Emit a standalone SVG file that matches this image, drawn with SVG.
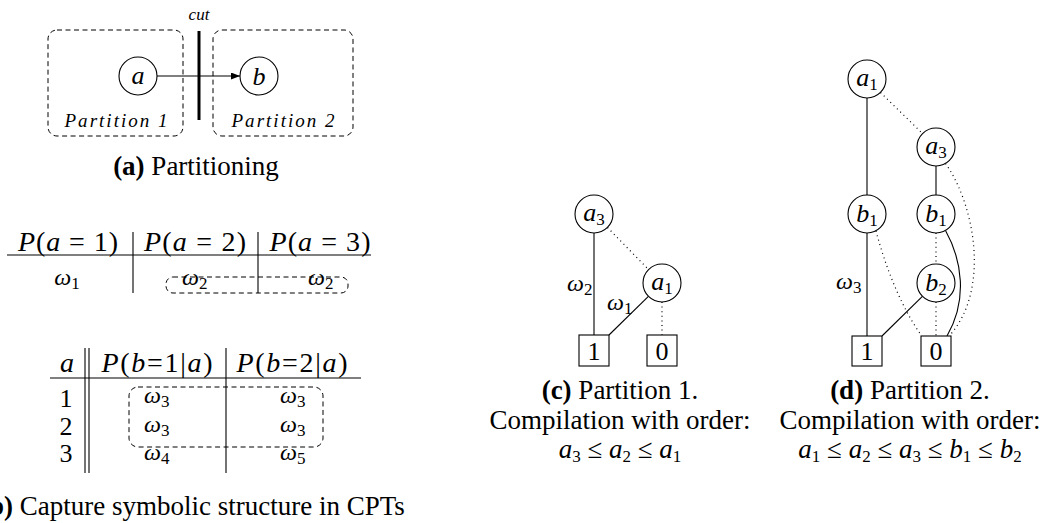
<svg xmlns="http://www.w3.org/2000/svg" width="1042" height="523" viewBox="0 0 1042 523">
<defs>
<style>
text{font-family:"Liberation Serif","Times New Roman",serif;fill:#000}
.m{font-style:italic}
.node{fill:#fff;stroke:#000;stroke-width:1.1}
.box{fill:#fff;stroke:#000;stroke-width:1.1}
.solid{stroke:#000;stroke-width:1.1;fill:none}
.dot{stroke:#000;stroke-width:1.2;fill:none;stroke-dasharray:1 3.6}
.dash{stroke:#000;stroke-width:1;fill:none;stroke-dasharray:5 3.5}
.rule{stroke:#000;stroke-width:1.2}
.nl{font-size:26px;font-style:italic;text-anchor:middle}
.sub{font-size:17px;font-style:normal}
.bl{font-size:26px;text-anchor:middle}
.cap{font-size:27px;text-anchor:middle}
.th{font-size:28px;text-anchor:middle}
.w{font-size:24px;font-style:italic}
.num{font-size:26px;text-anchor:middle}
</style>
<marker id="arr" markerWidth="9" markerHeight="7" refX="9" refY="3.5" orient="auto" markerUnits="userSpaceOnUse">
<path d="M0,0 L9,3.5 L0,7 z" fill="#000"/>
</marker>
</defs>
<rect width="1042" height="523" fill="#fff"/>

<!-- Panel (a) -->
<g id="partition1">
<rect class="dash" x="48" y="30" width="135" height="106" rx="9"/>
<text x="116" y="127" font-size="19" class="m" text-anchor="middle" textLength="103" lengthAdjust="spacing">Partition 1</text>
</g>
<g id="partition2">
<rect class="dash" x="213" y="30" width="140" height="106" rx="9"/>
<text x="283" y="127" font-size="19" class="m" text-anchor="middle" textLength="103" lengthAdjust="spacing">Partition 2</text>
</g>
<g id="cut">
<line x1="199" y1="31" x2="199" y2="120" stroke="#000" stroke-width="3"/>
<text x="199" y="20" font-size="17" class="m" text-anchor="middle">cut</text>
</g>
<g id="node-a">
<circle class="node" cx="138" cy="76" r="19"/>
<text class="nl" x="138" y="84">a</text>
</g>
<g id="node-b">
<circle class="node" cx="259" cy="76" r="19"/>
<text class="nl" x="259" y="85">b</text>
</g>
<g id="edges-a">
<line class="solid" x1="157" y1="76" x2="240" y2="76" marker-end="url(#arr)"/>
</g>
<text class="cap" x="196" y="175"><tspan font-weight="bold">(a)</tspan> Partitioning</text>

<!-- Panel (b): table 1 -->
<g id="table1">
<text class="th" x="68" y="251" textLength="100" lengthAdjust="spacing"><tspan class="m">P</tspan>(<tspan class="m">a</tspan> = 1)</text>
<text class="th" x="195" y="251" textLength="102" lengthAdjust="spacing"><tspan class="m">P</tspan>(<tspan class="m">a</tspan> = 2)</text>
<text class="th" x="320" y="251" textLength="101" lengthAdjust="spacing"><tspan class="m">P</tspan>(<tspan class="m">a</tspan> = 3)</text>
<line class="rule" x1="7" y1="255" x2="371" y2="255"/>
<line class="solid" x1="133" y1="232" x2="133" y2="293"/>
<line class="solid" x1="258" y1="232" x2="258" y2="293"/>
<text class="w" x="67" y="285" text-anchor="middle">ω<tspan class="sub" dy="4">1</tspan></text>
<text class="w" x="182" y="285">ω<tspan class="sub" dy="4">2</tspan></text>
<text class="w" x="308" y="285">ω<tspan class="sub" dy="4">2</tspan></text>
<rect class="dash" x="166" y="277" width="182" height="16" rx="7"/>
</g>

<!-- Panel (b): table 2 -->
<g id="table2">
<text class="th" x="67" y="372"><tspan class="m">a</tspan></text>
<text class="th" x="157" y="372" textLength="111" lengthAdjust="spacing"><tspan class="m">P</tspan>(<tspan class="m">b</tspan>=1|<tspan class="m">a</tspan>)</text>
<text class="th" x="292" y="372" textLength="111" lengthAdjust="spacing"><tspan class="m">P</tspan>(<tspan class="m">b</tspan>=2|<tspan class="m">a</tspan>)</text>
<line class="rule" x1="50" y1="378" x2="361" y2="378"/>
<line class="solid" x1="85" y1="348" x2="85" y2="473"/>
<line class="solid" x1="89" y1="348" x2="89" y2="473"/>
<line class="solid" x1="226" y1="348" x2="226" y2="473"/>
<text class="num" x="66" y="407">1</text>
<text class="num" x="66" y="435">2</text>
<text class="num" x="66" y="462">3</text>
<text class="w" x="144" y="403">ω<tspan class="sub" dy="4">3</tspan></text>
<text class="w" x="280" y="403">ω<tspan class="sub" dy="4">3</tspan></text>
<text class="w" x="144" y="432">ω<tspan class="sub" dy="4">3</tspan></text>
<text class="w" x="280" y="432">ω<tspan class="sub" dy="4">3</tspan></text>
<text class="w" x="144" y="460">ω<tspan class="sub" dy="4">4</tspan></text>
<text class="w" x="280" y="460">ω<tspan class="sub" dy="4">5</tspan></text>
<rect class="dash" x="129" y="387" width="194" height="60" rx="9"/>
</g>
<text class="cap" x="-20" y="515" style="text-anchor:start"><tspan font-weight="bold">(b)</tspan> Capture symbolic structure in CPTs</text>

<!-- Panel (c) -->
<g id="edges-c">
<line class="solid" x1="594" y1="233" x2="594" y2="335"/>
<line class="dot" x1="607.5" y1="227.5" x2="648.5" y2="269.5"/>
<line class="solid" x1="648.4" y1="296.3" x2="609" y2="335"/>
<line class="dot" x1="662" y1="302" x2="662" y2="335"/>
<text class="w" x="567" y="291">ω<tspan class="sub" dy="4">2</tspan></text>
<text class="w" x="607" y="310">ω<tspan class="sub" dy="4">1</tspan></text>
</g>
<g id="c-a3">
<circle class="node" cx="594" cy="214" r="19"/>
<text class="nl" x="594" y="221">a<tspan class="sub" dy="4">3</tspan></text>
</g>
<g id="c-a1">
<circle class="node" cx="662" cy="283" r="19"/>
<text class="nl" x="662" y="290">a<tspan class="sub" dy="4">1</tspan></text>
</g>
<g id="c-one">
<rect class="box" x="579" y="335" width="30" height="31"/>
<text class="bl" x="594" y="360">1</text>
</g>
<g id="c-zero">
<rect class="box" x="647" y="335" width="30" height="31"/>
<text class="bl" x="662" y="360">0</text>
</g>
<g id="caption-c">
<text class="cap" x="620" y="399"><tspan font-weight="bold">(c)</tspan> Partition 1.</text>
<text class="cap" x="620" y="429">Compilation with order:</text>
<text class="cap" x="620" y="458"><tspan class="m">a</tspan><tspan class="sub" dy="4">3</tspan><tspan dy="-4"> ≤ </tspan><tspan class="m">a</tspan><tspan class="sub" dy="4">2</tspan><tspan dy="-4"> ≤ </tspan><tspan class="m">a</tspan><tspan class="sub" dy="4">1</tspan></text>
</g>

<!-- Panel (d) -->
<g id="edges-d">
<line class="solid" x1="867" y1="98" x2="867" y2="195"/>
<line class="dot" x1="880.5" y1="92.5" x2="922.5" y2="133.5"/>
<line class="solid" x1="936" y1="166" x2="936" y2="195"/>
<path class="dot" d="M945.5,163.5 C975,205 990,290 950,335"/>
<line class="dot" x1="936" y1="233" x2="936" y2="264"/>
<path class="solid" d="M945.5,230.5 C962,260 968,300 947,336"/>
<line class="solid" x1="867" y1="233" x2="867" y2="336"/>
<path class="dot" d="M876,231 C885,265 900,305 921,335"/>
<line class="solid" x1="922.4" y1="296.3" x2="882" y2="336"/>
<line class="dot" x1="936" y1="302" x2="936" y2="336"/>
<text class="w" x="836" y="289">ω<tspan class="sub" dy="4">3</tspan></text>
</g>
<g id="d-a1">
<circle class="node" cx="867" cy="79" r="19"/>
<text class="nl" x="867" y="86">a<tspan class="sub" dy="4">1</tspan></text>
</g>
<g id="d-a3">
<circle class="node" cx="936" cy="147" r="19"/>
<text class="nl" x="936" y="154">a<tspan class="sub" dy="4">3</tspan></text>
</g>
<g id="d-b1-left">
<circle class="node" cx="867" cy="214" r="19"/>
<text class="nl" x="867" y="222">b<tspan class="sub" dy="4">1</tspan></text>
</g>
<g id="d-b1-right">
<circle class="node" cx="936" cy="214" r="19"/>
<text class="nl" x="936" y="222">b<tspan class="sub" dy="4">1</tspan></text>
</g>
<g id="d-b2">
<circle class="node" cx="936" cy="283" r="19"/>
<text class="nl" x="936" y="291">b<tspan class="sub" dy="4">2</tspan></text>
</g>
<g id="d-one">
<rect class="box" x="852" y="336" width="30" height="30"/>
<text class="bl" x="867" y="360">1</text>
</g>
<g id="d-zero">
<rect class="box" x="921" y="336" width="30" height="30"/>
<text class="bl" x="936" y="360">0</text>
</g>
<g id="caption-d">
<text class="cap" x="910" y="399"><tspan font-weight="bold">(d)</tspan> Partition 2.</text>
<text class="cap" x="910" y="429">Compilation with order:</text>
<text class="cap" x="910" y="458"><tspan class="m">a</tspan><tspan class="sub" dy="4">1</tspan><tspan dy="-4"> ≤ </tspan><tspan class="m">a</tspan><tspan class="sub" dy="4">2</tspan><tspan dy="-4"> ≤ </tspan><tspan class="m">a</tspan><tspan class="sub" dy="4">3</tspan><tspan dy="-4"> ≤ </tspan><tspan class="m">b</tspan><tspan class="sub" dy="4">1</tspan><tspan dy="-4"> ≤ </tspan><tspan class="m">b</tspan><tspan class="sub" dy="4">2</tspan></text>
</g>
</svg>
